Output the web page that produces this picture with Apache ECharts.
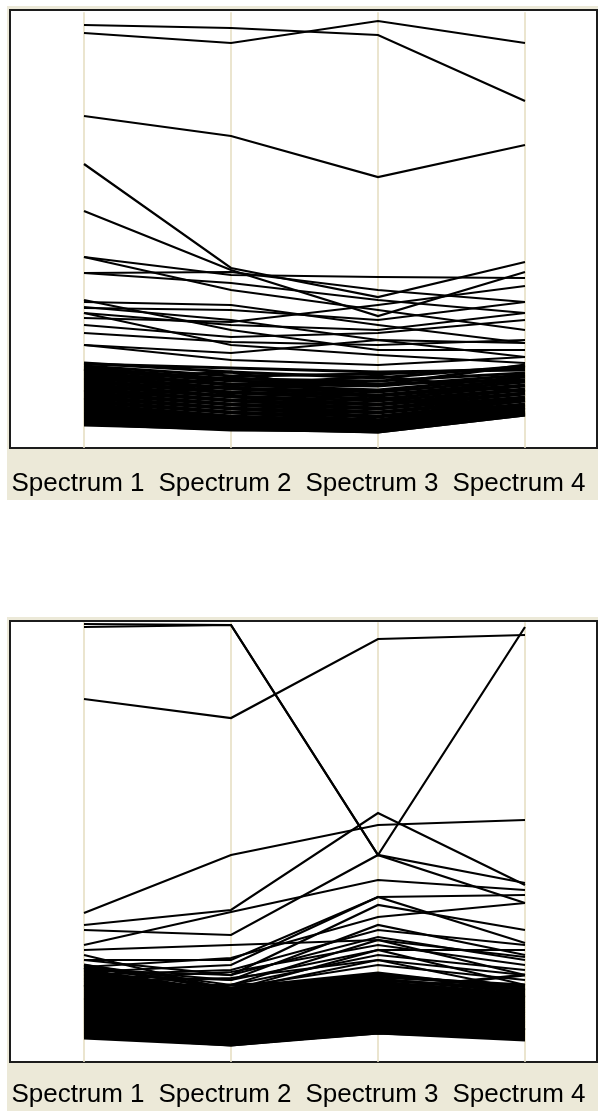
<!DOCTYPE html>
<html>
<head>
<meta charset="utf-8">
<style>
  html, body { margin: 0; padding: 0; background: #fff; }
  #chart { width: 598px; height: 1111px; }
</style>
<script src="https://cdn.jsdelivr.net/npm/echarts@6/dist/echarts.min.js"></script>
</head>
<body>
<div id="chart"></div>
<script>
const spectra = ['Spectrum 1', 'Spectrum 2', 'Spectrum 3', 'Spectrum 4'];

// upper plot: sparse profiles, then the dense low-intensity bundle
const topSparse = [
  [422, 419, 412, 346],
  [414, 404, 426, 404],
  [331, 311, 270, 302],
  [283, 179, 150, 185],
  [236, 177, 131, 175],
  [190, 172, 170, 169],
  [174, 175, 157, 145],
  [174, 164, 147, 134],
  [129, 125, 142, 161],
  [139, 137, 127, 145],
  [134, 122, 117, 134],
  [122, 110, 114, 127],
  [114, 105, 102, 107],
  [102, 94, 107, 104],
  [147, 117, 97, 97],
  [140, 127, 107, 90],
  [134, 102, 92, 84],
  [102, 87, 82, 90],
  [190, 157, 137, 117],
  [145, 142, 122, 104]
];
const topBand = [
  [84, 75, 69, 81], [83, 79, 75, 77], [81, 71, 73, 79], [79, 68, 66, 74],
  [77, 66, 62, 82], [75, 63, 61, 72], [73, 62, 57, 70], [71, 59, 55, 67],
  [69, 58, 52, 65], [67, 55, 51, 62], [65, 54, 48, 61], [63, 51, 46, 58],
  [61, 50, 43, 57], [59, 47, 42, 54], [57, 46, 39, 53], [55, 43, 38, 50],
  [53, 42, 35, 49], [51, 39, 34, 47], [49, 38, 31, 46], [47, 35, 30, 43],
  [45, 34, 27, 42], [43, 31, 26, 40], [41, 30, 24, 39], [39, 28, 23, 37],
  [37, 26, 21, 36], [35, 24, 20, 35], [33, 23, 19, 34], [31, 21, 17, 34],
  [29, 20, 16, 33], [27, 19, 15, 32], [25, 18, 15, 32], [23, 17, 16, 33],
  [22, 18, 17, 35],
  [67, 75, 49, 37], [47, 61, 71, 55], [78, 52, 27, 47], [55, 69, 63, 67]
];

// lower plot
const bottomSparse = [
  [437, 436, 206, 158],
  [434, 436, 206, 434],
  [362, 343, 422, 426],
  [148, 206, 236, 241],
  [136, 151, 248, 176],
  [131, 126, 206, 178],
  [116, 149, 181, 171],
  [101, 101, 164, 166],
  [94, 103, 144, 158],
  [89, 96, 164, 118],
  [86, 91, 131, 116],
  [91, 86, 124, 101],
  [81, 89, 116, 96],
  [86, 81, 111, 111],
  [76, 76, 106, 91],
  [79, 83, 101, 86],
  [111, 116, 121, 104],
  [71, 73, 96, 81],
  [101, 86, 156, 131],
  [93, 81, 136, 106],
  [96, 76, 121, 86],
  [83, 71, 111, 76],
  [106, 71, 101, 71]
];
const bottomBand = [
  [96, 71, 86, 74], [94, 73, 88, 71], [91, 69, 84, 76], [89, 67, 82, 69],
  [87, 65, 81, 72], [85, 64, 79, 67], [83, 62, 77, 65], [81, 60, 75, 63],
  [79, 59, 73, 62], [77, 57, 71, 60], [75, 55, 70, 58], [73, 53, 68, 57],
  [71, 52, 66, 55], [69, 50, 64, 53], [67, 48, 62, 52], [65, 46, 61, 50],
  [63, 45, 59, 48], [61, 43, 57, 47], [59, 41, 55, 45], [57, 39, 53, 43],
  [55, 38, 51, 42], [53, 36, 49, 40], [51, 34, 48, 38], [49, 32, 46, 37],
  [47, 31, 44, 35], [45, 29, 42, 34], [43, 27, 40, 32], [41, 26, 38, 31],
  [39, 24, 37, 30], [37, 23, 35, 28], [35, 21, 33, 27], [33, 20, 32, 26],
  [31, 19, 30, 25], [29, 18, 29, 24], [27, 17, 28, 23], [25, 16, 28, 21],
  [23, 16, 29, 24],
  [93, 51, 41, 66], [61, 76, 81, 31], [76, 41, 71, 86]
];

const beige = '#ece9d8';

// tick values are not drawn in the original, only the spectrum names
const hiddenLabel = { show: false, formatter: () => '', color: 'rgba(0,0,0,0)', fontSize: 1 };

const axisDefault = {
  nameLocation: 'start',
  nameTextStyle: {
    fontSize: 26, fontFamily: 'Liberation Sans', color: '#000',
    padding: [0, 12, 0, 0]
  },
  axisLine: { lineStyle: { color: '#ebe5cf', width: 2 } },
  axisTick: { show: false },
  axisLabel: hiddenLabel,
  splitLine: { show: false }
};

function makeAxes(pIdx, max, gap) {
  return spectra.map((name, i) => ({
    dim: i,
    parallelIndex: pIdx,
    name: name,
    min: 0,
    max: max,
    nameGap: gap,
    nameLocation: 'start',
    axisTick: { show: false },
    axisLabel: hiddenLabel
  }));
}

function panel(y, h, stripH) {
  // beige holder + white plot box with dark frame
  return [
    { type: 'rect', z: 0, silent: true, shape: { x: 7, y: y - 4, width: 591, height: h + stripH + 4 }, style: { fill: beige } },
    { type: 'rect', z: 0, silent: true, shape: { x: 10, y: y, width: 587, height: h }, style: { fill: '#fff', stroke: '#1c1c1c', lineWidth: 2 } }
  ];
}

function lines(pIdx, data, width) {
  return {
    type: 'parallel', parallelIndex: pIdx, silent: true, zlevel: 1,
    lineStyle: { color: '#000', width: width, opacity: 1 },
    inactiveOpacity: 1, activeOpacity: 1,
    emphasis: { disabled: true },
    data: data
  };
}

const chart = echarts.init(document.getElementById('chart'), null, { renderer: 'canvas' });

chart.setOption({
  animation: false,
  backgroundColor: '#fff',
  graphic: [...panel(10, 438, 52), ...panel(621, 441, 50)],
  parallel: [
    { left: 84, right: 73, top: 13, height: 434, parallelAxisDefault: axisDefault },
    { left: 84, right: 73, top: 623, height: 438, parallelAxisDefault: axisDefault }
  ],
  parallelAxis: [...makeAxes(0, 434, 24), ...makeAxes(1, 438, 21)],
  series: [
    lines(0, topSparse, 2.2),
    lines(0, topBand, 2.8),
    lines(1, bottomSparse, 2.2),
    lines(1, bottomBand, 2.8)
  ]
});
</script>
</body>
</html>
